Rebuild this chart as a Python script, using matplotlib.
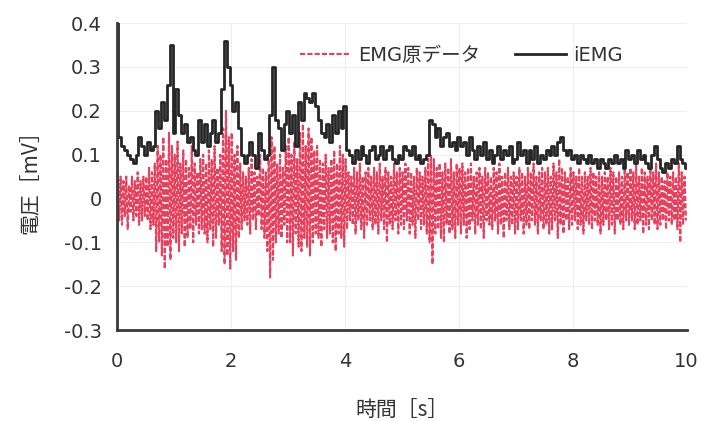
import matplotlib
matplotlib.use('Agg')
import matplotlib.pyplot as plt
import numpy as np

plt.rcParams['font.family'] = ['DejaVu Sans', 'Noto Sans CJK JP']
plt.rcParams['axes.unicode_minus'] = False

# iEMG (mV), sampled every 0.05 s from 0 to 10 s
iemg = [
    0.40, 0.14, 0.12, 0.11, 0.10, 0.09, 0.08, 0.10, 0.14, 0.12,
    0.10, 0.13, 0.11, 0.12, 0.20, 0.16, 0.22, 0.18, 0.26, 0.35,
    0.15, 0.25, 0.19, 0.15, 0.17, 0.13, 0.14, 0.11, 0.10, 0.18,
    0.13, 0.17, 0.12, 0.15, 0.18, 0.13, 0.15, 0.25, 0.36, 0.30,
    0.26, 0.20, 0.22, 0.16, 0.10, 0.08, 0.10, 0.13, 0.10, 0.07,
    0.15, 0.11, 0.09, 0.10, 0.19, 0.30, 0.18, 0.16, 0.11, 0.17,
    0.20, 0.15, 0.19, 0.12, 0.22, 0.18, 0.24, 0.23, 0.22, 0.24,
    0.21, 0.18, 0.15, 0.14, 0.17, 0.13, 0.19, 0.15, 0.20, 0.16,
    0.21, 0.11, 0.10, 0.08, 0.11, 0.09, 0.12, 0.10, 0.08, 0.11,
    0.12, 0.09, 0.10, 0.12, 0.09, 0.11, 0.12, 0.09, 0.08, 0.10,
    0.09, 0.12, 0.11, 0.10, 0.12, 0.09, 0.10, 0.08, 0.09, 0.10,
    0.18, 0.17, 0.14, 0.16, 0.12, 0.14, 0.15, 0.12, 0.13, 0.11,
    0.14, 0.12, 0.13, 0.10, 0.14, 0.11, 0.09, 0.12, 0.10, 0.13,
    0.09, 0.11, 0.08, 0.10, 0.12, 0.09, 0.11, 0.10, 0.12, 0.08,
    0.09, 0.13, 0.10, 0.11, 0.08, 0.11, 0.09, 0.12, 0.08, 0.10,
    0.09, 0.11, 0.10, 0.12, 0.10, 0.13, 0.14, 0.11, 0.10, 0.11,
    0.09, 0.10, 0.08, 0.10, 0.09, 0.08, 0.10, 0.08, 0.09, 0.07,
    0.09, 0.08, 0.07, 0.09, 0.08, 0.10, 0.08, 0.09, 0.07, 0.11,
    0.09, 0.10, 0.08, 0.11, 0.09, 0.10, 0.08, 0.07, 0.10, 0.12,
    0.09, 0.07, 0.06, 0.08, 0.07, 0.09, 0.08, 0.12, 0.09, 0.08,
    0.07,
]

# raw EMG: upper and lower swing in each 0.05 s window
emg_hi = [
    0.06, 0.05, 0.04, 0.05, 0.03, 0.05, 0.04, 0.06, 0.04, 0.05,
    0.05, 0.07, 0.06, 0.08, 0.12, 0.10, 0.14, 0.09, 0.15, 0.12,
    0.10, 0.13, 0.08, 0.11, 0.09, 0.07, 0.12, 0.08, 0.06, 0.09,
    0.10, 0.08, 0.11, 0.09, 0.12, 0.07, 0.10, 0.16, 0.20, 0.14,
    0.15, 0.10, 0.12, 0.08, 0.06, 0.05, 0.07, 0.09, 0.06, 0.05,
    0.10, 0.07, 0.06, 0.09, 0.14, 0.12, 0.08, 0.10, 0.07, 0.12,
    0.14, 0.10, 0.13, 0.09, 0.15, 0.17, 0.12, 0.16, 0.14, 0.11,
    0.12, 0.09, 0.08, 0.10, 0.07, 0.09, 0.11, 0.08, 0.12, 0.10,
    0.09, 0.06, 0.05, 0.07, 0.06, 0.08, 0.05, 0.06, 0.07, 0.05,
    0.07, 0.06, 0.08, 0.05, 0.07, 0.06, 0.05, 0.08, 0.06, 0.07,
    0.06, 0.08, 0.07, 0.06, 0.05, 0.07, 0.06, 0.05, 0.07, 0.09,
    0.10, 0.09, 0.07, 0.08, 0.06, 0.08, 0.07, 0.09, 0.06, 0.08,
    0.07, 0.08, 0.06, 0.07, 0.08, 0.05, 0.06, 0.07, 0.05, 0.07,
    0.06, 0.05, 0.07, 0.06, 0.08, 0.05, 0.06, 0.07, 0.05, 0.06,
    0.05, 0.07, 0.06, 0.05, 0.07, 0.06, 0.08, 0.05, 0.06, 0.07,
    0.06, 0.07, 0.05, 0.08, 0.06, 0.09, 0.07, 0.06, 0.05, 0.07,
    0.06, 0.05, 0.07, 0.05, 0.06, 0.05, 0.07, 0.06, 0.05, 0.06,
    0.05, 0.06, 0.05, 0.07, 0.06, 0.05, 0.06, 0.05, 0.07, 0.06,
    0.07, 0.06, 0.08, 0.05, 0.07, 0.06, 0.05, 0.07, 0.06, 0.08,
    0.06, 0.05, 0.04, 0.06, 0.05, 0.06, 0.05, 0.08, 0.06, 0.05,
]
emg_lo = [
    -0.05, -0.06, -0.04, -0.07, -0.03, -0.05, -0.04, -0.06, -0.05, -0.04,
    -0.05, -0.07, -0.06, -0.12, -0.10, -0.13, -0.16, -0.11, -0.14, -0.09,
    -0.10, -0.12, -0.08, -0.11, -0.09, -0.07, -0.10, -0.06, -0.08, -0.07,
    -0.08, -0.10, -0.07, -0.11, -0.09, -0.06, -0.12, -0.15, -0.13, -0.16,
    -0.12, -0.14, -0.09, -0.07, -0.05, -0.06, -0.08, -0.05, -0.07, -0.04,
    -0.07, -0.09, -0.12, -0.18, -0.14, -0.10, -0.08, -0.09, -0.06, -0.10,
    -0.10, -0.13, -0.08, -0.11, -0.12, -0.09, -0.11, -0.13, -0.10, -0.08,
    -0.09, -0.11, -0.07, -0.09, -0.08, -0.10, -0.12, -0.08, -0.09, -0.11,
    -0.07, -0.05, -0.06, -0.08, -0.05, -0.07, -0.09, -0.06, -0.05, -0.07,
    -0.06, -0.08, -0.05, -0.07, -0.10, -0.06, -0.07, -0.05, -0.08, -0.06,
    -0.07, -0.05, -0.08, -0.06, -0.09, -0.05, -0.07, -0.06, -0.08, -0.10,
    -0.15, -0.08, -0.07, -0.09, -0.10, -0.06, -0.08, -0.07, -0.09, -0.06,
    -0.08, -0.06, -0.09, -0.07, -0.05, -0.08, -0.06, -0.07, -0.09, -0.05,
    -0.06, -0.07, -0.05, -0.08, -0.06, -0.09, -0.05, -0.07, -0.06, -0.08,
    -0.07, -0.05, -0.08, -0.06, -0.07, -0.05, -0.06, -0.08, -0.05, -0.07,
    -0.06, -0.08, -0.07, -0.05, -0.09, -0.06, -0.08, -0.05, -0.07, -0.06,
    -0.05, -0.07, -0.06, -0.08, -0.05, -0.06, -0.07, -0.05, -0.06, -0.08,
    -0.06, -0.05, -0.07, -0.06, -0.08, -0.05, -0.06, -0.07, -0.05, -0.06,
    -0.05, -0.07, -0.06, -0.05, -0.08, -0.06, -0.07, -0.05, -0.06, -0.07,
    -0.06, -0.05, -0.07, -0.05, -0.06, -0.05, -0.07, -0.10, -0.06, -0.05,
]

dt = 0.05
t_iemg = np.arange(len(iemg)) * dt

# zigzag the raw signal between its upper and lower swings
t_win = np.arange(len(emg_hi)) * dt
t_emg = np.column_stack([t_win + dt * 0.25, t_win + dt * 0.75]).ravel()
emg = np.column_stack([emg_hi, emg_lo]).ravel()

fig = plt.figure(figsize=(7.05, 4.21), dpi=100)
ax = fig.add_axes([0.166, 0.216, 0.808, 0.729])

ax.plot(t_emg, emg, color='#e8405c', linewidth=1.5, linestyle=(0, (2.5, 1)),
        label='EMG原データ')
ax.plot(t_iemg, iemg, color='#262626', linewidth=2.0, drawstyle='steps-mid',
        label='iEMG')

ax.set_xlim(0, 10)
ax.set_ylim(-0.3, 0.4)
ax.set_xticks([0, 2, 4, 6, 8, 10])
ax.set_yticks(np.arange(-0.3, 0.41, 0.1))
ax.yaxis.set_major_formatter(
    plt.FuncFormatter(lambda v, p: '0' if abs(v) < 1e-9 else '%.1f' % v))
ax.tick_params(length=0, labelsize=14, colors='#333333')
ax.tick_params(axis='x', pad=16)
ax.tick_params(axis='y', pad=11)

ax.grid(color='#eeeeee', linewidth=0.8)
ax.set_axisbelow(True)
for s in ['top', 'right']:
    ax.spines[s].set_visible(False)
for s in ['left', 'bottom']:
    ax.spines[s].set_color('#3a3a3a')
    ax.spines[s].set_linewidth(2)

ax.set_xlabel('時間［s］', fontsize=15, color='#333333', labelpad=20,
              family=['Noto Sans CJK JP', 'DejaVu Sans'])
ax.set_ylabel('電圧［mV］', fontsize=15, color='#333333', labelpad=16,
              family=['Noto Sans CJK JP', 'DejaVu Sans'])

leg = ax.legend(loc='center left', bbox_to_anchor=(0.29, 0.895), ncol=2,
                frameon=False, handlelength=2.6,
                columnspacing=1.8, handletextpad=0.4,
                prop={'family': ['DejaVu Sans', 'Noto Sans CJK JP'],
                      'size': 14})
for txt in leg.get_texts():
    txt.set_color('#333333')

fig.savefig('out.png', dpi=100)
